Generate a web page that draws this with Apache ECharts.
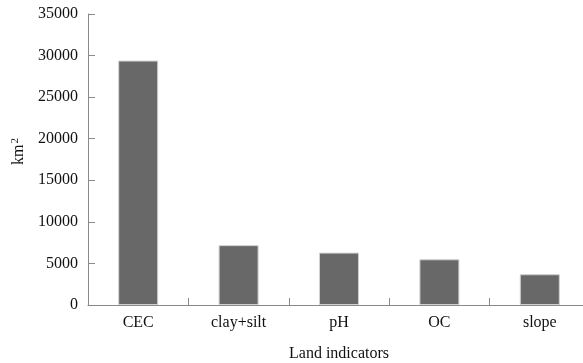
<!DOCTYPE html>
<html>
<head>
<meta charset="utf-8">
<script src="https://cdn.jsdelivr.net/npm/echarts@6/dist/echarts.min.js"></script>
<style>
  html, body { margin: 0; padding: 0; background: #fff; }
  #chart { width: 583px; height: 363px; }
</style>
</head>
<body>
<div id="chart"></div>
<script>
// Area (km²) attributed to each land indicator
const categories = ['CEC', 'clay+silt', 'pH', 'OC', 'slope'];
const areaValues = [29400, 7200, 6300, 5500, 3700];
const yTicks = [0, 5000, 10000, 15000, 20000, 25000, 30000, 35000];

const font = '"Liberation Serif", "Times New Roman", serif';
const axisGrey = '#8a8a8a';

const chart = echarts.init(document.getElementById('chart'));
chart.setOption({
  animation: false,
  backgroundColor: '#fff',
  grid: { left: 88, right: -7, top: 14, bottom: 58, outerBoundsMode: 'none' },
  xAxis: {
    type: 'category',
    data: categories,
    name: 'Land indicators',
    nameLocation: 'middle',
    nameGap: 41,
    nameTextStyle: { fontFamily: font, fontSize: 16, color: '#111' },
    axisLine: { lineStyle: { color: axisGrey, width: 1 } },
    axisTick: { show: true, inside: true, length: 7, alignWithLabel: false, lineStyle: { color: axisGrey } },
    axisLabel: { fontFamily: font, fontSize: 16, color: '#111', margin: 10 }
  },
  yAxis: {
    type: 'value',
    min: yTicks[0],
    max: yTicks[yTicks.length - 1],
    interval: yTicks[1] - yTicks[0],
    name: '{b|km}{s|2}',
    nameLocation: 'middle',
    nameGap: 61,
    nameRotate: 90,
    nameTextStyle: {
      fontFamily: font, fontSize: 16, color: '#111',
      padding: [0, 0, 0, 16],
      rich: {
        b: { fontFamily: font, fontSize: 16, color: '#111' },
        s: { fontFamily: font, fontSize: 11, color: '#111', verticalAlign: 'top', padding: [0, 0, 6, 1] }
      }
    },
    axisLine: { show: true, lineStyle: { color: axisGrey, width: 1 } },
    axisTick: { show: true, inside: true, length: 7, lineStyle: { color: axisGrey } },
    splitLine: { show: false },
    axisLabel: { fontFamily: font, fontSize: 16, color: '#111', margin: 10, formatter: v => String(v) }
  },
  series: [{
    type: 'bar',
    data: areaValues,
    barWidth: 40,
    itemStyle: { color: '#686868', borderColor: '#d0d0d0', borderWidth: 1 }
  }]
});
</script>
</body>
</html>
